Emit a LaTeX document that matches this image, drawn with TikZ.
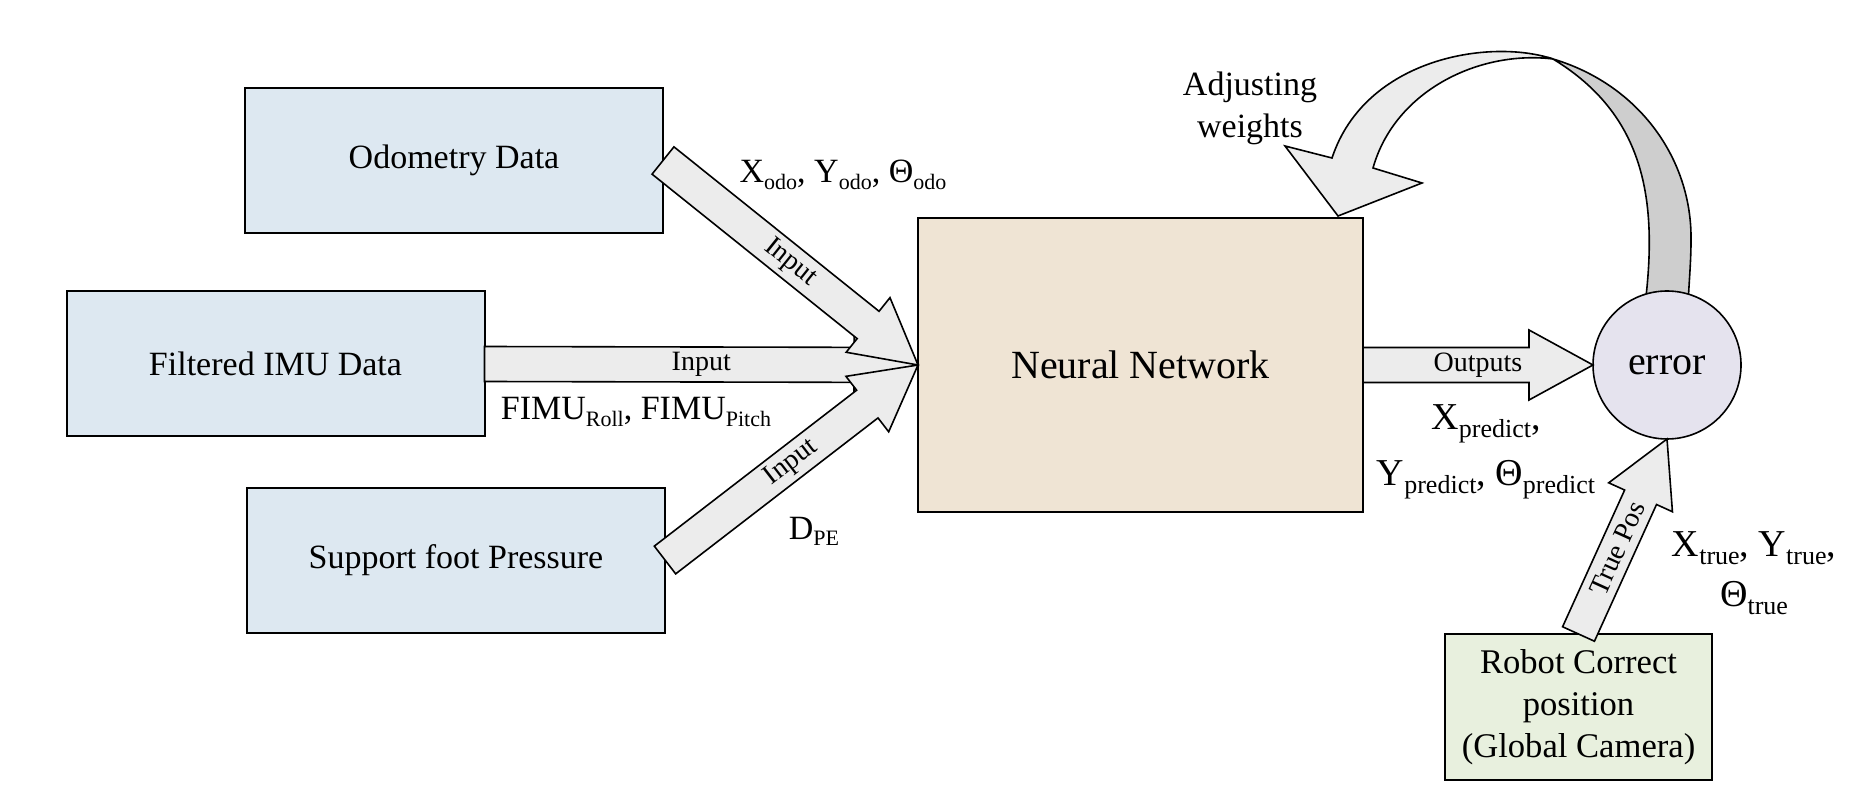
\documentclass[tikz,border=0pt]{standalone}
\usepackage{fontspec}
\setmainfont{Liberation Serif}
\usetikzlibrary{calc}
\definecolor{boxblue}{RGB}{221,232,241}
\definecolor{nntan}{RGB}{239,228,212}
\definecolor{errcol}{RGB}{229,227,238}
\definecolor{robgreen}{RGB}{232,240,222}
\definecolor{arrfill}{RGB}{236,236,236}
\definecolor{bandgray}{RGB}{206,206,206}
\newcommand{\sbs}[2]{\raisebox{-0.2em}{\fontsize{#1}{#1}\selectfont #2}}
\newcommand{\blockarr}[2]{%
  \path (#1) coordinate (ba-a) (#2) coordinate (ba-t);
  \path ($(ba-t)!32pt!(ba-a)$) coordinate (ba-b);
  \draw[blockarrow] ($(ba-a)!8.75pt!90:(ba-t)$) -- ($(ba-b)!8.75pt!-90:(ba-a)$)
    -- ($(ba-b)!17.5pt!-90:(ba-a)$) -- (ba-t) -- ($(ba-b)!17.5pt!90:(ba-a)$)
    -- ($(ba-b)!8.75pt!90:(ba-a)$) -- ($(ba-a)!8.75pt!-90:(ba-t)$) -- cycle;
}
\tikzset{
  databox/.style={draw=black, line width=1pt, fill=boxblue, minimum width=209pt,
    minimum height=72.5pt, inner sep=0pt, outer sep=0pt, font=\fontsize{17}{20}\selectfont},
  nnbox/.style={draw=black, line width=1pt, fill=nntan, minimum width=222.5pt,
    minimum height=147pt, inner sep=0pt, outer sep=0pt, font=\fontsize{20}{24}\selectfont},
  errnode/.style={draw=black, line width=0.8pt, fill=errcol, circle, minimum size=74pt,
    inner sep=0pt, outer sep=0pt, font=\fontsize{20}{24}\selectfont},
  robbox/.style={draw=black, line width=1pt, fill=robgreen, minimum width=133.5pt,
    minimum height=73pt, inner sep=0pt, outer sep=0pt, align=center,
    font=\fontsize{17.3}{21}\selectfont},
  blockarrow/.style={draw=black, line width=0.8pt, fill=arrfill, line join=miter},
  bandstyle/.style={draw=black, line width=0.8pt, fill=bandgray},
  arrlabel/.style={font=\fontsize{14}{16}\selectfont, inner sep=0pt, sloped},
  mlabel/.style={font=\fontsize{17}{21}\selectfont, inner sep=0pt},
  plabel/.style={font=\fontsize{19}{28}\selectfont, inner sep=0pt, align=center},
}
\begin{document}
\begin{tikzpicture}[x=0.5pt, y=-0.5pt]
\useasboundingbox (0,0) rectangle (1861,801);
% boxes
\node[databox] (odo) at (454,160.5) {Odometry Data};
\node[databox] (imu) at (275.5,364) {Filtered IMU Data};
\node[databox] (sup) at (456,560) {Support foot Pressure};
\node[nnbox] (nn) at (1140.5,365) {Neural Network};
\node[robbox] (rob) at (1578.5,707) {Robot Correct\\position\\(Global Camera)};
% curved feedback arrow (twisted band)
\draw[bandstyle] (1553,59) .. controls (1640,85) and (1692,160) .. (1691,240)
  .. controls (1691,262) and (1689,282) .. (1688,305) -- (1645,305)
  .. controls (1658,200) and (1645,115) .. (1553,59) -- cycle;
\draw[blockarrow] (1553,59) .. controls (1490,38) and (1365,58) .. (1332,158)
  -- (1285,146) -- (1338,216) -- (1422,183) -- (1373,168)
  .. controls (1395,90) and (1480,50) .. (1553,59) -- cycle;
\node[errnode] (err) at (1667,365) {error};
% block arrows
\blockarr{imu.east}{nn.west}
\blockarr{odo.east}{nn.west}
\blockarr{sup.east}{nn.west}
\blockarr{nn.east}{err.west}
\blockarr{rob.north}{err.south}
% arrow labels
\path (odo.east) -- node[arrlabel, pos=0.5] (l1) {Input} (nn.west);
\path (imu.east) -- node[arrlabel, pos=0.5] (l2) {Input} (nn.west);
\path (sup.east) -- node[arrlabel, pos=0.5] (l3) {Input} (nn.west);
\path (nn.east) -- node[arrlabel, pos=0.5] (l4) {Outputs} (err.west);
\path (rob.north) -- node[arrlabel, pos=0.44] (l5) {True Pos} (err.south);
% free labels
\node[mlabel, anchor=base] (odolab) at (843,183) {X\sbs{11}{odo}, Y\sbs{11}{odo}, Θ\sbs{11}{odo}};
\node[mlabel, anchor=base] (imulab) at (636,420) {FIMU\sbs{11}{Roll}, FIMU\sbs{11}{Pitch}};
\node[mlabel, anchor=base] (dpe) at (814,539) {D\sbs{11}{PE}};
\node[plabel] (pred) at (1486,452) {X\sbs{13}{predict},\\Y\sbs{13}{predict}, Θ\sbs{13}{predict}};
\node[plabel, font=\fontsize{19}{25}\selectfont] (truelab) at (1754,573) {X\sbs{13}{true}, Y\sbs{13}{true},\\Θ\sbs{13}{true}};
\node[mlabel, align=center] (adj) at (1250,108) {Adjusting\\weights};
\end{tikzpicture}
\end{document}
